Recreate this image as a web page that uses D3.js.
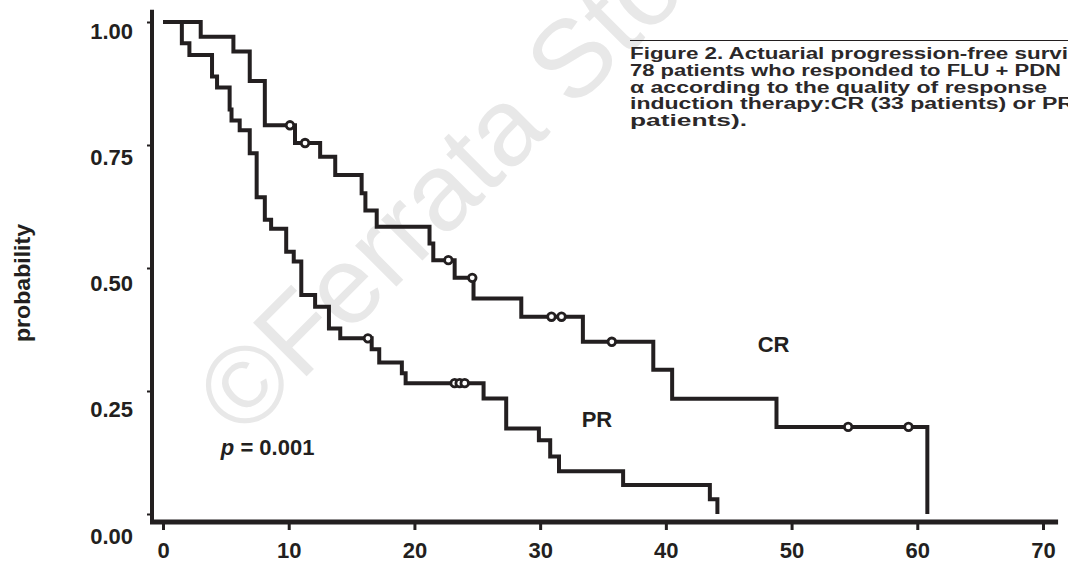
<!DOCTYPE html>
<html>
<head>
<meta charset="utf-8">
<script src="https://cdn.jsdelivr.net/npm/d3@7"></script>
<style>
  html, body { margin: 0; padding: 0; background: #fff; }
  svg { display: block; }
</style>
</head>
<body>
<div id="chart"></div>
<script>
/* ── data ─────────────────────────────────────────────── */

// CR curve (33 patients): step times (months) and survival after each step
const crTime = [0, 3.0, 5.6, 6.9, 8.1, 10.5, 12.5, 13.7, 15.8, 16.1, 17.0, 21.2, 21.5, 23.2, 24.7, 28.5, 33.4, 39.0, 40.5, 48.8, 60.8];
const crSurv = [1, 0.97, 0.94, 0.88, 0.79, 0.754, 0.726, 0.689, 0.652, 0.617, 0.584, 0.55, 0.516, 0.48, 0.438, 0.401, 0.35, 0.293, 0.234, 0.177, 0];
const crCensor = [10.1, 11.3, 22.7, 24.6, 30.9, 31.7, 35.7, 54.5, 59.3];

// PR curve (45 patients)
const prTime = [0, 1.5, 2.1, 3.9, 4.3, 5.3, 5.45, 6.1, 6.9, 7.45, 8.1, 8.6, 9.8, 10.4, 11.0, 12.1, 13.2, 14.1, 16.6, 17.2, 19.0, 19.3, 25.5, 27.3, 29.9, 30.8, 31.5, 36.6, 43.5, 44.1];
const prSurv = [1, 0.957, 0.933, 0.889, 0.867, 0.822, 0.80, 0.78, 0.733, 0.644, 0.598, 0.58, 0.533, 0.513, 0.445, 0.421, 0.377, 0.357, 0.335, 0.308, 0.286, 0.266, 0.235, 0.174, 0.15, 0.117, 0.087, 0.059, 0.03, 0];
const prCensor = [16.3, 23.2, 23.6, 24.0];

const xTicks = [0, 10, 20, 30, 40, 50, 60, 70];
const yTicks = [0, 0.25, 0.5, 0.75, 1];
const yTitle = 'probability';

const captionLines = [
  'Figure 2. Actuarial progression-free survi',
  '78 patients who responded to FLU + PDN',
  'α according to the quality of response',
  'induction therapy:CR (33 patients) or PR',
  'patients).'
];
const captionLengths = [438, 431, 417, 444, 117];

/* ── layout ───────────────────────────────────────────── */

const W = 1068, H = 562;
const ink = '#231f20';
const font = '"Liberation Sans", Arial, Helvetica, sans-serif';

const x = d3.scaleLinear().domain([0, 70]).range([163, 1043]);
const y = d3.scaleLinear().domain([0, 1]).range([514, 22]);

const svg = d3.select('#chart')
  .append('svg')
  .attr('width', W)
  .attr('height', H);

svg.append('rect').attr('width', W).attr('height', H).attr('fill', '#fff');

// watermark
svg.append('text')
  .attr('transform', 'translate(243,440) rotate(-45)')
  .attr('font-family', font)
  .attr('font-size', 110)
  .attr('fill', '#e8e8e8')
  .text('©Ferrata Storti Foundation');

/* ── axes ─────────────────────────────────────────────── */

const axisX = x(0) - 11;   // y axis line position
const axisY = y(0) + 8;    // x axis line position

const yAxis = svg.append('g')
  .attr('transform', `translate(${axisX},0)`)
  .call(d3.axisLeft(y).tickValues(yTicks).tickFormat(d3.format('.2f')).tickSize(5).tickPadding(14));
yAxis.select('.domain').remove();
yAxis.selectAll('.tick line').attr('stroke', ink).attr('stroke-width', 2);
// labels in the scan sit a little lower than their ticks, more so near the bottom
yAxis.selectAll('.tick text')
  .attr('fill', ink)
  .attr('font-family', font)
  .attr('font-weight', 'bold')
  .attr('font-size', 22)
  .attr('dy', d => 16.5 + (1 - d) * 12.5);

const xAxis = svg.append('g')
  .attr('transform', `translate(0,${axisY})`)
  .call(d3.axisBottom(x).tickValues(xTicks).tickFormat(d3.format('d')).tickSize(8).tickPadding(12));
xAxis.select('.domain').remove();
xAxis.selectAll('.tick line').attr('stroke', ink).attr('stroke-width', 3);
xAxis.selectAll('.tick text')
  .attr('fill', ink)
  .attr('font-family', font)
  .attr('font-weight', 'bold')
  .attr('font-size', 22);

svg.append('line')
  .attr('x1', axisX).attr('x2', axisX)
  .attr('y1', y(1.025)).attr('y2', axisY + 2)
  .attr('stroke', ink).attr('stroke-width', 4);

svg.append('line')
  .attr('x1', axisX - 2).attr('x2', x(71.2))
  .attr('y1', axisY).attr('y2', axisY)
  .attr('stroke', ink).attr('stroke-width', 5);

svg.append('text')
  .attr('transform', `translate(30,${(y(0) + y(1)) / 2 + 15}) rotate(-90)`)
  .attr('text-anchor', 'middle')
  .attr('font-family', font)
  .attr('font-weight', 'bold')
  .attr('font-size', 22)
  .attr('textLength', 118)
  .attr('lengthAdjust', 'spacingAndGlyphs')
  .attr('fill', ink)
  .text(yTitle);

/* ── curves ───────────────────────────────────────────── */

const line = d3.line()
  .x(d => x(d[0]))
  .y(d => y(d[1]))
  .curve(d3.curveStepAfter);

function survAt(times, surv, t) {
  let s = surv[0];
  for (let i = 0; i < times.length; i++) if (times[i] <= t) s = surv[i];
  return s;
}

function drawCurve(times, surv, censor) {
  const pts = times.map((t, i) => [t, surv[i]]);
  svg.append('path')
    .datum(pts)
    .attr('d', line)
    .attr('fill', 'none')
    .attr('stroke', ink)
    .attr('stroke-width', 4)
    .attr('stroke-linejoin', 'miter');

  svg.append('g')
    .selectAll('circle')
    .data(censor)
    .join('circle')
    .attr('cx', d => x(d))
    .attr('cy', d => y(survAt(times, surv, d)))
    .attr('r', 3.8)
    .attr('fill', '#fff')
    .attr('stroke', ink)
    .attr('stroke-width', 2.8);
}

drawCurve(crTime, crSurv, crCensor);
drawCurve(prTime, prSurv, prCensor);

/* ── labels ───────────────────────────────────────────── */

function label(t, s, txt) {
  return svg.append('text')
    .attr('x', x(t)).attr('y', y(s))
    .attr('font-family', font)
    .attr('font-weight', 'bold')
    .attr('font-size', 22)
    .attr('fill', ink)
    .text(txt);
}

label(47.3, 0.329, 'CR');
label(33.3, 0.177, 'PR');

const pText = label(4.6, 0.12, '');
pText.append('tspan').attr('font-style', 'italic').text('p');
pText.append('tspan').text(' = 0.001');

/* ── caption ──────────────────────────────────────────── */

svg.append('line')
  .attr('x1', 630).attr('x2', W)
  .attr('y1', 40.5).attr('y2', 40.5)
  .attr('stroke', ink).attr('stroke-width', 1.2);

svg.append('g')
  .selectAll('text')
  .data(captionLines)
  .join('text')
  .attr('x', 630)
  .attr('y', (d, i) => 59 + i * 16.75)
  .attr('textLength', (d, i) => captionLengths[i])
  .attr('lengthAdjust', 'spacingAndGlyphs')
  .attr('font-family', font)
  .attr('font-weight', 'bold')
  .attr('font-size', 16)
  .attr('fill', '#2b2829')
  .text(d => d);
</script>
</body>
</html>
